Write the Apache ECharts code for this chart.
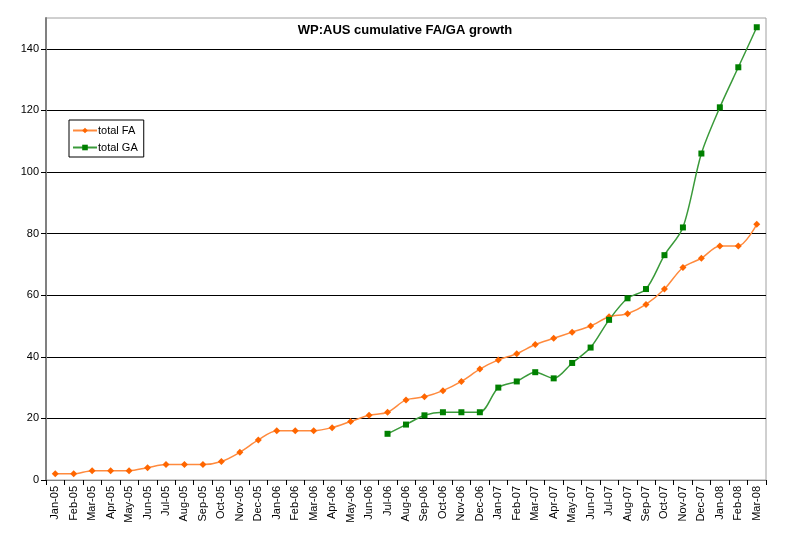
<!DOCTYPE html>
<html>
<head>
<meta charset="utf-8">
<script src="https://cdn.jsdelivr.net/npm/echarts@6/dist/echarts.min.js"></script>
<style>
  html, body { margin: 0; padding: 0; background: #fff; }
  #chart { width: 800px; height: 547px; }
</style>
</head>
<body>
<div id="chart"></div>
<script>
// months Jan-05 .. Mar-08
const months = [
  'Jan-05', 'Feb-05', 'Mar-05', 'Apr-05', 'May-05', 'Jun-05', 'Jul-05', 'Aug-05', 'Sep-05', 'Oct-05', 'Nov-05', 'Dec-05',
  'Jan-06', 'Feb-06', 'Mar-06', 'Apr-06', 'May-06', 'Jun-06', 'Jul-06', 'Aug-06', 'Sep-06', 'Oct-06', 'Nov-06', 'Dec-06',
  'Jan-07', 'Feb-07', 'Mar-07', 'Apr-07', 'May-07', 'Jun-07', 'Jul-07', 'Aug-07', 'Sep-07', 'Oct-07', 'Nov-07', 'Dec-07',
  'Jan-08', 'Feb-08', 'Mar-08'
]

const totalFA = [
  2, 2, 3, 3, 3, 4, 5, 5, 5, 6, 9, 13,
  16, 16, 16, 17, 19, 21, 22, 26, 27, 29, 32, 36,
  39, 41, 44, 46, 48, 50, 53, 54, 57, 62, 69, 72,
  76, 76, 83
]

// GA count starts in Jul-06
const totalGA = [
  null, null, null, null, null, null, null, null, null, null, null, null,
  null, null, null, null, null, null, 15, 18, 21, 22, 22, 22,
  30, 32, 35, 33, 38, 43, 52, 59, 62, 73, 82, 106,
  121, 134, 147
]

const chart = echarts.init(document.getElementById('chart'))

const option = {
  backgroundColor: '#fff',
  animation: false,
  textStyle: { fontFamily: 'Liberation Sans, Arial, sans-serif' },
  title: {
    text: 'WP:AUS cumulative FA/GA growth',
    left: 400,
    textAlign: 'center',
    top: 19,
    textStyle: { fontSize: 13, fontWeight: 'bold', color: '#000', fontFamily: 'Liberation Sans, Arial, sans-serif' }
  },
  legend: {
    orient: 'vertical',
    left: 69,
    top: 120,
    itemWidth: 24,
    itemHeight: 7,
    itemGap: 6,
    padding: [5, 6, 4, 3],
    borderColor: '#000',
    borderWidth: 1,
    backgroundColor: '#fff',
    textStyle: { fontSize: 11, color: '#000', padding: [0, 0, 0, -4] },
    data: ['total FA', 'total GA']
  },
  grid: {
    left: 46,
    right: 34,
    top: 18,
    bottom: 67,
    show: true,
    borderColor: '#a0a0a0',
    borderWidth: 1
  },
  xAxis: {
    type: 'category',
    data: months,
    boundaryGap: true,
    axisLine: { lineStyle: { color: '#808080', width: 1 } },
    axisTick: { show: true, length: 5, lineStyle: { color: '#000' } },
    axisLabel: { rotate: 90, fontSize: 11, color: '#000', margin: 6, interval: 0 },
    splitLine: { show: false }
  },
  yAxis: {
    type: 'value',
    min: 0,
    max: 150,
    interval: 20,
    axisLine: { show: true, lineStyle: { color: '#808080', width: 2 } },
    axisTick: { show: true, length: 5, lineStyle: { color: '#000' } },
    axisLabel: { fontSize: 11, color: '#000', margin: 7, showMaxLabel: false },
    splitLine: { show: true, showMinLine: false, showMaxLine: false, lineStyle: { color: '#000', width: 1 } }
  },
  series: [
    {
      name: 'total FA',
      type: 'line',
      data: totalFA,
      smooth: 0.3,
      symbol: 'diamond',
      symbolSize: 7,
      itemStyle: { color: '#ff6600' },
      lineStyle: { color: '#ff8a3d', width: 1.5 }
    },
    {
      name: 'total GA',
      type: 'line',
      data: totalGA,
      smooth: 0.3,
      symbol: 'rect',
      symbolSize: 6,
      itemStyle: { color: '#008000' },
      lineStyle: { color: '#3a9a3a', width: 1.5 }
    }
  ]
}

chart.setOption(option)
</script>
</body>
</html>
